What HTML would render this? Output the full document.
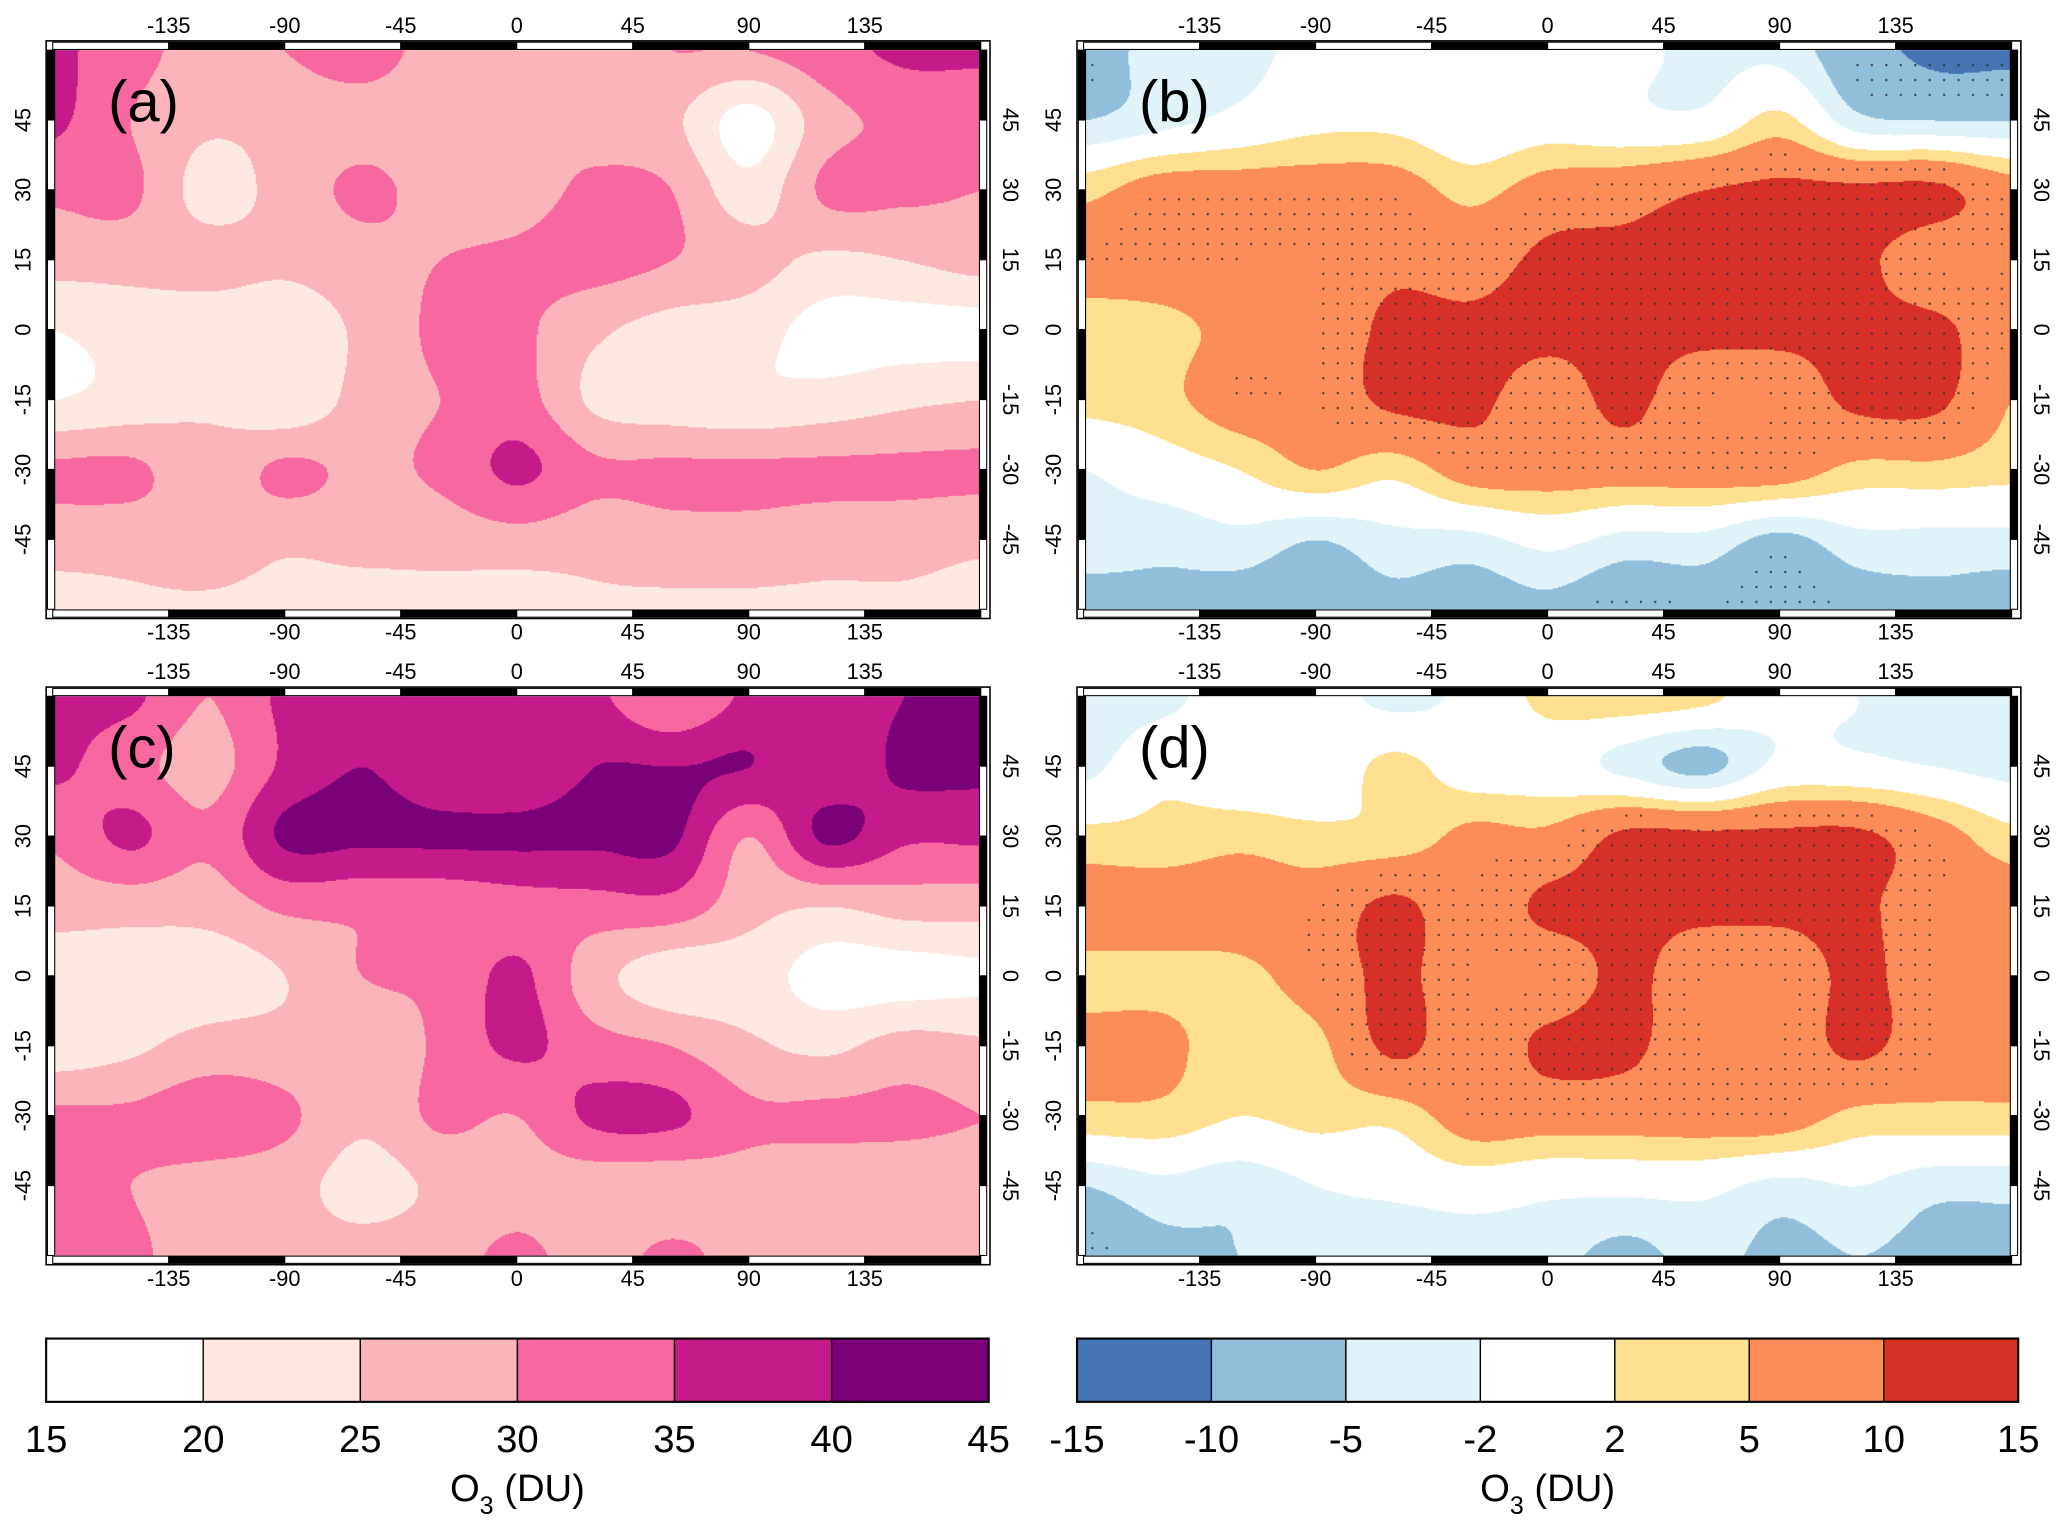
<!DOCTYPE html>
<html><head><meta charset="utf-8">
<style>
html,body{margin:0;padding:0;background:#fff;}
body{width:2067px;height:1539px;overflow:hidden;font-family:"Liberation Sans",sans-serif;}
#wrap{position:absolute;left:0;top:0;width:1568px;height:1167px;transform:scale(1.31824,1.31877);transform-origin:0 0;}
canvas{position:absolute;}
svg{position:absolute;left:0;top:0;}
</style></head><body>
<div id="wrap">
<canvas id="cva" width="1408" height="848" style="left:40px;top:38px;width:704px;height:424px"></canvas>
<canvas id="cvb" width="1408" height="848" style="left:822px;top:38px;width:704px;height:424px"></canvas>
<canvas id="cvc" width="1408" height="848" style="left:40px;top:528px;width:704px;height:424px"></canvas>
<canvas id="cvd" width="1408" height="848" style="left:822px;top:528px;width:704px;height:424px"></canvas>
<svg id="ov" width="1568" height="1167" viewBox="0 0 1568 1167"></svg>
</div>
<script>
// ---- data ----
const lonGrid=[-180,-150,-120,-90,-60,-30,0,30,60,90,120,150,180];
const latGrid=[60,45,30,15,0,-15,-30,-45,-60];
const absLevels=[15,20,25,30,35,40,45];
const absColors=["#ffffff","#fde8e2","#fbb4b9","#f768a1","#c51b8a","#7a0177"];
const diffLevels=[-15,-10,-5,-2,2,5,10,15];
const diffColors=["#4575b4","#91bfdb","#e0f3f8","#ffffff","#fee090","#fc8d59","#d73027"];
const lonTicks=[-135,-90,-45,0,45,90,135];
const latTicks=[45,30,15,0,-15,-30,-45];
const fieldA=[
[36,32,28,30,32,28,27,28,30,30,33,36,36],
[36,30,26,27,28,27,28,28,26,18,28,31,31],
[31,31,23,27,31,28,28,31,30,22,31,31,30],
[27,27,27,26,28,30,31,32,30,27,24,25,27],
[20,22,22,22,26,31,31,26,23,22,18,18,18],
[20,22,24,21,27,30,32,24,22,21,22,24,25],
[31,31,27,31,29,31,36,31,31,31,31,31,31],
[27,27,28,26,27,27,28,27,28,28,27,27,26],
[23,24,24,23,22,23,22,24,24,24,24,24,23]];
const fieldB=[
[-8,-3,-3,-1,-1,-1,-1,-1,-3,-3,-8,-11,-11],
[-5,-3,-1,1,1,-1,0,-1,-1,3,-4,-5,-5],
[4,7,7,7,7,4,7,8,10,11,11,11,7],
[7,7,7,7,9,8,11,11,11,11,11,7,7],
[3,4,6,7,11,11,11,11,11,11,11,11,7],
[3,4,7,7,11,11,8,11,7,7,11,11,5],
[-2,0,2,5,3,7,7,7,7,7,4,4,3],
[-3,-4,-3,-5,-3,-3,-1,-3,-3,-6,-3,-3,-3],
[-7,-6,-7,-7,-6,-7,-6,-8,-7,-8,-7,-6,-7]];
const fieldC=[
[36,36,30,36,36,36,36,36,30,36,36,40,40],
[36,32,28,36,40,36,36,40,40,40,36,41,41],
[31,36,31,41,41,41,41,41,41,30,41,36,36],
[27,27,27,31,31,31,33,33,33,27,25,27,27],
[22,22,22,25,30,31,36,27,22,22,18,18,19],
[22,24,27,27,26,31,36,32,30,26,24,27,26],
[31,31,33,31,26,31,30,36,36,31,31,31,30],
[31,30,28,27,23,26,28,27,27,28,27,27,27],
[31,31,27,27,27,28,31,28,31,28,28,28,27]];
const fieldD=[
[-4,-3,0,0,-3,-1,3,4,3,-1,-2,-4,-3],
[-3,1,-1,-1,3,0,0,-3,-6,-1,-1,-2,-3],
[3,3,4,3,3,6,6,11,11,11,11,7,3],
[7,7,7,7,11,7,11,11,11,11,11,7,7],
[4,4,4,7,11,7,7,11,7,7,11,7,5],
[6,6,3,4,11,7,11,11,7,7,11,7,7],
[4,4,2,3,3,7,7,7,7,7,4,4,4],
[-5,-3,-4,-2,-1,0,-1,-1,-1,-3,-2,-4,-4],
[-8,-6,-5,-4,-5,-4,-4,-6,-4,-6,-5,-6,-6]];

// ---- rendering ----
const MW=704, MH=424;
function xOfLon(lon){return (lon+180)/360*MW;}
function yOfLat(lat){return (60-lat)/120*MH;}
function cr(p0,p1,p2,p3,t){return 0.5*((2*p1)+(-p0+p2)*t+(2*p0-5*p1+4*p2-p3)*t*t+(-p0+3*p1-3*p2+p3)*t*t*t);}
function g(f,j,i){j=Math.max(0,Math.min(latGrid.length-1,j));i=Math.max(0,Math.min(lonGrid.length-1,i));return f[j][i];}
function sample(f,lon,lat){
  let fi=(lon-lonGrid[0])/30, fj=(latGrid[0]-lat)/15;
  fi=Math.max(0,Math.min(lonGrid.length-1.0001,fi)); fj=Math.max(0,Math.min(latGrid.length-1.0001,fj));
  const i=Math.floor(fi), j=Math.floor(fj), u=fi-i, v=fj-j;
  const rows=[];
  for(let dj=-1;dj<=2;dj++){rows.push(cr(g(f,j+dj,i-1),g(f,j+dj,i),g(f,j+dj,i+1),g(f,j+dj,i+2),u));}
  return cr(rows[0],rows[1],rows[2],rows[3],v);
}
function colorFor(val,levels,colors){
  for(let k=1;k<levels.length-1;k++){ if(val<levels[k]) return colors[k-1]; }
  return colors[colors.length-1];
}
function drawField(id,f,levels,colors,stipple){
  const cv=document.getElementById(id), ctx=cv.getContext('2d');
  const sc=cv.width/MW;
  for(let py=0;py<cv.height;py+=2){
    for(let px=0;px<cv.width;px+=2){
      const lon=px/sc/MW*360-180, lat=60-py/sc/MH*120;
      ctx.fillStyle=colorFor(sample(f,lon,lat),levels,colors);
      ctx.fillRect(px,py,2.5,2.5);
    }
  }
  if(stipple){
    ctx.fillStyle="#333";
    for(let lat=57;lat>-60;lat-=3.2){
      for(let lon=-177;lon<180;lon+=5.6){
        const v=sample(f,lon,lat);
        if(Math.abs(v)>=7){ctx.fillRect(xOfLon(lon)*sc,yOfLat(lat)*sc,3,3);}
      }
    }
  }
}
drawField('cva',fieldA,absLevels,absColors,false);
drawField('cvb',fieldB,diffLevels,diffColors,true);
drawField('cvc',fieldC,absLevels,absColors,false);
drawField('cvd',fieldD,diffLevels,diffColors,true);

// ---- axes overlay ----
const NS="http://www.w3.org/2000/svg", ov=document.getElementById('ov');
function el(tag,attrs,parent){const e=document.createElementNS(NS,tag);for(const k in attrs)e.setAttribute(k,attrs[k]);(parent||ov).appendChild(e);return e;}
function txt(s,attrs,name){const e=el('text',attrs);e.textContent=s;
  
  
  return e;}
const panels=[{x:40,y:38,lab:"(a)"},{x:822,y:38,lab:"(b)"},{x:40,y:528,lab:"(c)"},{x:822,y:528,lab:"(d)"}];
panels.forEach((p,pi)=>{
  const gr=el('g',{});
  
  
  el('rect',{x:p.x-5,y:p.y-7,width:MW+12,height:MH+14,fill:'none',stroke:'#000','stroke-width':1.2},gr);
  const lonB=[-180,-135,-90,-45,0,45,90,135,180];
  for(let k=0;k<8;k++){
    const x0=p.x+xOfLon(lonB[k]), x1=p.x+xOfLon(lonB[k+1]);
    const fill=(k%2==0)?'#fff':'#000';
    el('rect',{x:x0,y:p.y-6,width:x1-x0,height:5.5,fill:fill,stroke:'#000','stroke-width':0.8},gr);
    el('rect',{x:x0,y:p.y+MH+0.5,width:x1-x0,height:5.5,fill:fill,stroke:'#000','stroke-width':0.8},gr);
  }
  const latB=[60,45,30,15,0,-15,-30,-45,-60];
  for(let k=0;k<8;k++){
    const y0=p.y+yOfLat(latB[k]), y1=p.y+yOfLat(latB[k+1]);
    const fill=(k%2==0)?'#000':'#fff';
    el('rect',{x:p.x-4,y:y0,width:5.5,height:y1-y0,fill:fill,stroke:'#000','stroke-width':0.8},gr);
    el('rect',{x:p.x+MW-1,y:y0,width:5.5,height:y1-y0,fill:fill,stroke:'#000','stroke-width':0.8},gr);
  }
  lonTicks.forEach(t=>{
    const x=p.x+xOfLon(t);
    txt(String(t),{x:x,y:p.y-13,'font-size':16.5,'text-anchor':'middle'},'lon-tick-top');
    txt(String(t),{x:x,y:p.y+MH+23,'font-size':16.5,'text-anchor':'middle'},'lon-tick-bottom');
  });
  latTicks.forEach(t=>{
    const y=p.y+yOfLat(t);
    txt(String(t),{x:0,y:0,'font-size':16.5,'text-anchor':'middle',transform:`translate(${p.x-17},${y}) rotate(-90)`},'lat-tick-left');
    txt(String(t),{x:0,y:0,'font-size':16.5,'text-anchor':'middle',transform:`translate(${p.x+MW+17},${y}) rotate(90)`},'lat-tick-right');
  });
  txt(p.lab,{x:p.x+42,y:p.y+54,'font-size':44},'panel-label');
});

// ---- colorbars ----
function colorbar(x0,w,levels,colors,name){
  const gr=el('g',{});
  
  
  const n=colors.length, cw=w/n;
  colors.forEach((c,k)=>{
    const r=el('rect',{x:x0+k*cw,y:1015,width:cw,height:48,fill:c,stroke:'#000','stroke-width':1},gr);
    
    
  });
  el('rect',{x:x0,y:1015,width:w,height:48,fill:'none',stroke:'#000','stroke-width':1.6},gr);
  levels.forEach((l,k)=>{
    txt(String(l),{x:x0+k*cw,y:1101,'font-size':29,'text-anchor':'middle'},'colorbar-tick');
  });
  const t=txt('',{x:x0+w/2,y:1138,'font-size':29,'text-anchor':'middle'},'colorbar-title');
  t.innerHTML='O<tspan dy="10" font-size="19">3</tspan><tspan dy="-10"> (DU)</tspan>';
}
colorbar(35,715,absLevels,absColors,'colorbar-absolute');
colorbar(817,714,diffLevels,diffColors,'colorbar-difference');
</script>
</body></html>
